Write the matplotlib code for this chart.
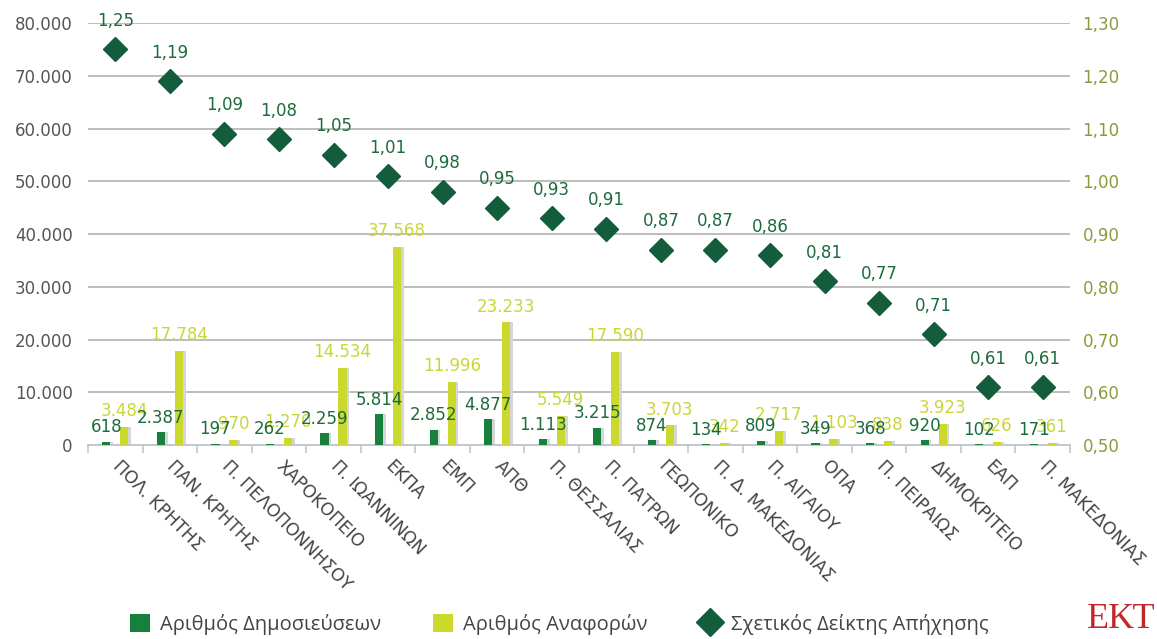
import matplotlib.pyplot as plt
import numpy as np
from matplotlib.lines import Line2D
from matplotlib.patches import Patch

universities = ['ΠΟΛ. ΚΡΗΤΗΣ', 'ΠΑΝ. ΚΡΗΤΗΣ', 'Π. ΠΕΛΟΠΟΝΝΗΣΟΥ', 'ΧΑΡΟΚΟΠΕΙΟ',
                'Π. ΙΩΑΝΝΙΝΩΝ', 'ΕΚΠΑ', 'ΕΜΠ', 'ΑΠΘ', 'Π. ΘΕΣΣΑΛΙΑΣ', 'Π. ΠΑΤΡΩΝ',
                'ΓΕΩΠΟΝΙΚΟ', 'Π. Δ. ΜΑΚΕΔΟΝΙΑΣ', 'Π. ΑΙΓΑΙΟΥ', 'ΟΠΑ', 'Π. ΠΕΙΡΑΙΩΣ',
                'ΔΗΜΟΚΡΙΤΕΙΟ', 'ΕΑΠ', 'Π. ΜΑΚΕΔΟΝΙΑΣ']
publications = [618, 2387, 197, 262, 2259, 5814, 2852, 4877, 1113, 3215,
                874, 134, 809, 349, 368, 920, 102, 171]
citations = [3484, 17784, 970, 1270, 14534, 37568, 11996, 23233, 5549, 17590,
             3703, 342, 2717, 1103, 838, 3923, 626, 361]
impact = [1.25, 1.19, 1.09, 1.08, 1.05, 1.01, 0.98, 0.95, 0.93, 0.91,
          0.87, 0.87, 0.86, 0.81, 0.77, 0.71, 0.61, 0.61]

DARK = '#17803d'
YELLOW = '#cbd92c'
DIAMOND = '#135c3c'
PUB_TXT = '#1d6b3c'
CIT_TXT = '#c9d637'


def thousands(v):
    return f"{v:,.0f}".replace(",", ".")


def ratio(v):
    return f"{v:.2f}".replace(".", ",")


def main():
    fig = plt.figure(figsize=(11.57, 6.39), dpi=100)
    ax = fig.add_axes([0.0761, 0.3036, 0.8487, 0.6604])
    x = np.arange(len(universities))
    w = 0.15
    off = 0.165

    # light shadow on the right of every bar
    ax.bar(x - off + 0.05, publications, w, color='#d6d6d6', zorder=2)
    ax.bar(x + off + 0.05, citations, w, color='#d6d6d6', zorder=2)
    ax.bar(x - off, publications, w, color=DARK, zorder=3)
    ax.bar(x + off, citations, w, color=YELLOW, zorder=3)

    for xi, p, c in zip(x, publications, citations):
        ax.annotate(thousands(p), (xi - off, p), xytext=(0, 4), textcoords='offset points',
                    ha='center', va='bottom', fontsize=12, color=PUB_TXT, zorder=5)
        ax.annotate(thousands(c), (xi + off, c), xytext=(0, 5), textcoords='offset points',
                    ha='center', va='bottom', fontsize=12, color=CIT_TXT, zorder=4)

    ax.set_xlim(-0.5, len(universities) - 0.5)
    ax.set_ylim(0, 80000)
    ax.set_yticks(np.arange(0, 80001, 10000))
    ax.set_yticklabels([thousands(v) for v in np.arange(0, 80001, 10000)])
    ax.yaxis.grid(True, color='#bdbdbd', linewidth=1.4)
    ax.set_axisbelow(True)
    ax.tick_params(axis='y', length=0, pad=11, labelsize=12, labelcolor='#555555')

    ax.set_xticks(x)
    ax.set_xticklabels(universities, rotation=-45, ha='left', va='center',
                       rotation_mode='anchor', fontsize=12.5, color='#444444')
    ax.tick_params(axis='x', length=0, pad=13)
    ax.set_xticks(np.arange(-0.5, len(universities), 1), minor=True)
    ax.tick_params(axis='x', which='minor', length=6, color='#c3c7cf', width=1.2)

    for s in ['top', 'left', 'right']:
        ax.spines[s].set_visible(False)
    ax.spines['bottom'].set_color('#c3c7cf')
    ax.spines['bottom'].set_linewidth(1.4)

    ax2 = ax.twinx()
    ax2.set_ylim(0.5, 1.3)
    ticks = np.round(np.arange(0.5, 1.31, 0.1), 2)
    ax2.set_yticks(ticks)
    ax2.set_yticklabels([ratio(t) for t in ticks])
    ax2.tick_params(axis='y', length=0, pad=9, labelsize=12, labelcolor='#8d993c')
    for s in ax2.spines.values():
        s.set_visible(False)
    ax2.plot(x, impact, linestyle='None', marker='D', markersize=12.5,
             color=DIAMOND, zorder=5)
    for xi, v in zip(x, impact):
        ax2.annotate(ratio(v), (xi, v), xytext=(0, 14), textcoords='offset points',
                     ha='center', va='bottom', fontsize=12, color=PUB_TXT)

    handles = [Patch(facecolor=DARK), Patch(facecolor=YELLOW),
               Line2D([], [], linestyle='None', marker='D', markersize=14, color=DIAMOND)]
    names = ['Αριθμός Δημοσιεύσεων', 'Αριθμός Αναφορών', 'Σχετικός Δείκτης Απήχησης']
    leg = fig.legend(handles, names, loc='lower center', bbox_to_anchor=(0.483, -0.022),
                     ncol=3, frameon=False, prop={'family': 'Open Sans', 'size': 14.5},
                     handlelength=1.0, handleheight=1.0, columnspacing=2.6, handletextpad=0.5)
    for t in leg.get_texts():
        t.set_color('#444444')

    fig.text(0.999, 0.004, 'ΕΚΤ', ha='right', va='bottom', color='#c1272d',
             fontsize=26, family='Liberation Serif')

    fig.savefig('out.png', dpi=100)


if __name__ == "__main__":
    main()
